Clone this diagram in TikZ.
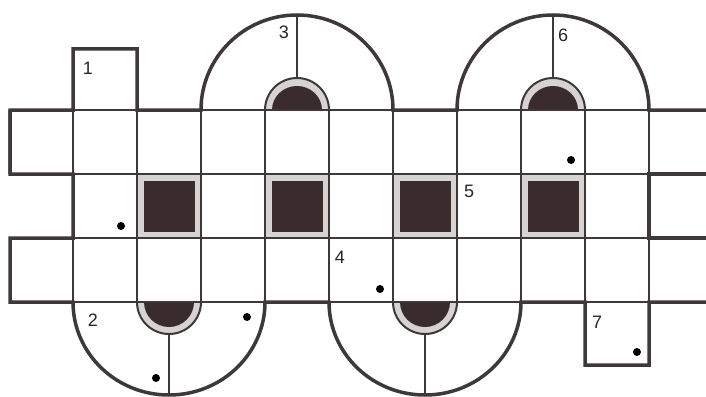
\documentclass[tikz,border=0pt]{standalone}
\usepackage{fontspec}
\setmainfont{Liberation Sans}
\definecolor{linec}{RGB}{62,56,56}
\definecolor{darkc}{RGB}{58,44,44}
\definecolor{grayc}{RGB}{214,211,211}
\begin{document}
\begin{tikzpicture}[x=1pt,y=-1pt,
  thinline/.style={line width=2pt, draw=linec},
  thickline/.style={line width=3.5pt, draw=linec, line join=miter},
  grayfill/.style={fill=grayc},
  darkfill/.style={fill=darkc},
  dotmark/.style={fill=black},
  lbl/.style={inner sep=0pt, font=\fontsize{18}{20}\selectfont, text=black!85}]
\useasboundingbox (0,0) rectangle (706,396);
\begin{scope}
\clip (0,0) rectangle (706,396);
% white background
\fill[white] (0,0) rectangle (706,396);
% gray cells with dark squares (row B)
\foreach \x in {137,265,393,521} {
  \fill[grayfill] (\x,174) rectangle ++(64,64);
  \fill[darkfill] (\x+6.5,180.5) rectangle ++(51,51);
}
% top inner arches (tubes) with gray ring and dark half-disk
\foreach \x in {265,521} {
  \fill[grayfill] (\x,110) arc[start angle=180,end angle=360,radius=32] -- cycle;
  \fill[darkfill] (\x+7,110) arc[start angle=180,end angle=360,x radius=25,y radius=24] -- cycle;
  \draw[thinline] (\x,110) arc[start angle=180,end angle=360,radius=32];
  \draw[thinline] (\x+32,78) -- (\x+32,15);
}
% bottom inner arches
\foreach \x in {137,393} {
  \fill[grayfill] (\x,302) arc[start angle=180,end angle=0,radius=32] -- cycle;
  \fill[darkfill] (\x+7,302) arc[start angle=180,end angle=0,x radius=25,y radius=25] -- cycle;
  \draw[thinline] (\x,302) arc[start angle=180,end angle=0,radius=32];
  \draw[thinline] (\x+32,334) -- (\x+32,396);
}
% thin grid lines
\foreach \y in {110,174,238,302} {
  \draw[thinline] (10,\y) -- (706,\y);
}
\foreach \x in {73,137,201,265,329,393,457,521,585,649} {
  \draw[thinline] (\x,110) -- (\x,302);
}
% thick outline
\draw[thickline] (10,174) -- (10,110) -- (73,110) -- (73,49) -- (137,49) -- (137,110) -- (201,110)
  arc[start angle=180,end angle=360,x radius=96,y radius=95] -- (457,110)
  arc[start angle=180,end angle=360,x radius=96,y radius=95] -- (706,110);
\draw[thickline] (706,174) -- (649,174) -- (649,238) -- (706,238);
\draw[thickline] (706,302) -- (649,302) -- (649,365) -- (585,365) -- (585,302) -- (521,302)
  arc[start angle=0,end angle=180,x radius=96,y radius=93] -- (265,302)
  arc[start angle=0,end angle=180,x radius=96,y radius=93] -- (10,302) -- (10,238)
  -- (73,238) -- (73,174) -- (10,174) -- (10,110);
% dots
\fill[dotmark] (121,226) circle (4);
\fill[dotmark] (247,317) circle (4);
\fill[dotmark] (156,378) circle (4);
\fill[dotmark] (380,289) circle (4);
\fill[dotmark] (571,160) circle (4);
\fill[dotmark] (637,352) circle (4);
\end{scope}
% labels
\node[lbl] (n1) at (88,68) {1};
\node[lbl] (n2) at (93,320) {2};
\node[lbl] (n3) at (284,32) {3};
\node[lbl] (n4) at (340,257) {4};
\node[lbl] (n5) at (469,191) {5};
\node[lbl] (n6) at (563,35) {6};
\node[lbl] (n7) at (597,322) {7};
\end{tikzpicture}
\end{document}
